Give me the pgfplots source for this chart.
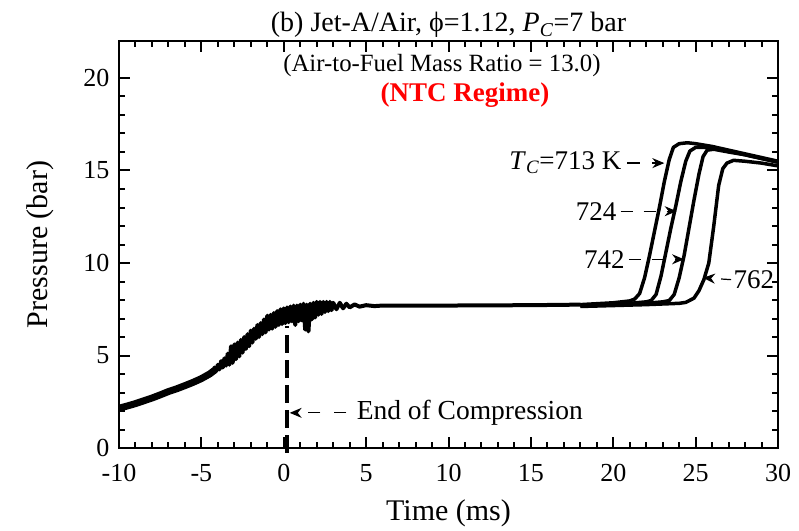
\documentclass[border=0pt]{standalone}
\usepackage{fontspec}
\setmainfont{Liberation Serif}
\usepackage{pgfplots}
\pgfplotsset{compat=1.18}
\usetikzlibrary{arrows.meta}
\begin{document}
\begin{tikzpicture}
\begin{axis}[
 at={(0,0)}, anchor=south west,
 scale only axis, width=659pt, height=407pt,
 xmin=-10, xmax=30, ymin=0, ymax=22,
 xtick={-10,-5,0,5,10,15,20,25,30}, ytick={0,5,10,15,20},
 minor x tick num=4, minor y tick num=4,
 xtick pos=both, ytick pos=both, tick align=inside,
 major tick length=11pt, minor tick length=6pt,
 axis line style={line width=1.7pt},
 every tick/.append style={line width=2pt, black},
 tick label style={font=\fontsize{26}{28}\selectfont},
 /pgf/number format/assume math mode=true,
 xticklabel style={yshift=-13pt},
 yticklabel style={xshift=-6pt},
 clip=false,
]
% early compression (smooth, thick)
\addplot[black, line width=7pt, line join=round] coordinates {
(-10,2.15) (-9.5,2.27) (-9,2.4) (-8.5,2.55) (-8,2.7) (-7.5,2.87) (-7,3.05) (-6.5,3.2) (-6,3.37) (-5.5,3.55) (-5,3.75) (-4.5,4.0) (-4.2,4.2)
};
% noisy end-of-compression region and plateau
\addplot[black, line width=4pt, line join=round] coordinates {
(-4.5,4.0) (-4.4,4.15) (-4.3,4.1) (-4.2,4.35) (-4.1,4.15) (-4.0,4.5) (-3.9,4.25) (-3.8,4.7) (-3.7,4.35) (-3.6,4.85)
(-3.5,4.45) (-3.4,5.1) (-3.3,4.5) (-3.2,5.5) (-3.1,4.6) (-3.0,5.6) (-2.9,4.8) (-2.8,5.7) (-2.7,4.95) (-2.6,5.85)
(-2.5,5.15) (-2.4,6.0) (-2.3,5.35) (-2.2,6.15) (-2.1,5.5) (-2.0,6.35) (-1.9,5.7) (-1.8,6.45) (-1.7,5.9) (-1.6,6.65)
(-1.5,6.0) (-1.4,6.75) (-1.3,6.15) (-1.2,6.95) (-1.1,6.25) (-1.0,7.15) (-0.9,6.4) (-0.8,7.2) (-0.7,6.45) (-0.6,7.3)
(-0.5,6.55) (-0.4,7.4) (-0.3,6.65) (-0.2,7.5) (-0.1,6.7) (0.0,7.55) (0.1,6.75) (0.2,7.6) (0.3,6.8) (0.4,7.65)
(0.5,6.85) (0.6,7.7) (0.7,6.65) (0.8,7.7) (0.9,6.85) (1.0,7.75) (1.1,6.9) (1.2,7.8) (1.3,6.4) (1.4,7.75)
(1.5,6.3) (1.6,7.8) (1.7,6.95) (1.8,7.85) (1.9,7.05) (2.0,7.9) (2.1,7.2) (2.2,7.9) (2.3,7.25) (2.4,7.9)
(2.5,7.35) (2.6,7.9) (2.7,7.4) (2.8,7.9) (2.9,7.45) (3.0,7.85) (3.2,7.5) (3.4,7.85) (3.6,7.55) (3.8,7.8)
(4.0,7.6) (4.3,7.76) (4.6,7.64) (5,7.72) (5.5,7.67) (6,7.7) (8,7.7) (10,7.7) (12,7.71) (15,7.72) (18,7.75)
};
% T_C = 713 K
\addplot[black, line width=3.5pt, line join=round] coordinates {
(18,7.75) (20,7.85) (21,7.95) (21.3,8.05) (21.6,8.35) (21.9,9.2) (22.2,10.4) (22.5,11.7) (22.8,13.0) (23.1,14.4)
(23.4,15.6) (23.65,16.25) (24,16.45) (24.5,16.5) (25,16.45) (26,16.3) (27,16.1) (28,15.9) (29,15.7) (30,15.5)
};
% 724 K
\addplot[black, line width=3.5pt, line join=round] coordinates {
(18,7.72) (21,7.82) (22,7.9) (22.3,7.97) (22.6,8.3) (22.9,9.3) (23.2,10.6) (23.5,11.9) (23.8,13.1) (24.1,14.4)
(24.4,15.5) (24.65,16.05) (25,16.25) (25.5,16.25) (26,16.2) (27,16.05) (28,15.85) (29,15.65) (30,15.45)
};
% 742 K
\addplot[black, line width=3.5pt, line join=round] coordinates {
(18,7.7) (22,7.82) (23,7.9) (23.4,7.97) (23.7,8.3) (24.0,9.2) (24.3,10.4) (24.6,11.9) (24.9,13.4) (25.2,14.8)
(25.45,15.75) (25.7,16.1) (26.1,16.15) (27,16.0) (28,15.85) (29,15.65) (30,15.45)
};
% 762 K
\addplot[black, line width=3.5pt, line join=round] coordinates {
(18,7.65) (22,7.75) (24,7.82) (24.4,7.87) (24.9,8.1) (25.2,8.5) (25.5,9.1) (25.8,10.0) (26.1,12.0) (26.4,14.2)
(26.65,15.1) (26.9,15.4) (27.3,15.55) (28,15.5) (29,15.4) (30,15.25)
};
% end of compression marker
\draw[black, line width=3.5pt, dash pattern=on 18pt off 7pt] (axis cs:0.2,-0.25) -- (axis cs:0.2,6.6);
\draw[black, line width=1.2pt, dash pattern=on 12pt off 14pt, -{Stealth[length=12pt,width=10pt]}] (axis cs:3.8,1.9) -- (axis cs:0.36,1.9);
\node[anchor=west, inner sep=0pt, font=\fontsize{27.5}{30}\selectfont] at (axis cs:4.42,1.9) {End of Compression};
% temperature labels
\node[anchor=east, inner sep=0pt, font=\fontsize{27}{30}\selectfont] at (axis cs:20.5,15.4) {\textit{T}\textsubscript{\textit{C}}=713 K};
\draw[black, line width=1.2pt, dash pattern=on 13pt off 12pt, -{Stealth[length=12pt,width=10pt]}] (axis cs:20.85,15.4) -- (axis cs:23.1,15.4);
\node[anchor=east, inner sep=0pt, font=\fontsize{27}{30}\selectfont] at (axis cs:20.2,12.8) {724};
\draw[black, line width=1.2pt, dash pattern=on 12pt off 11pt, -{Stealth[length=12pt,width=10pt]}] (axis cs:20.45,12.8) -- (axis cs:23.85,12.8);
\node[anchor=east, inner sep=0pt, font=\fontsize{27}{30}\selectfont] at (axis cs:20.7,10.2) {742};
\draw[black, line width=1.2pt, dash pattern=on 12pt off 11pt, -{Stealth[length=12pt,width=10pt]}] (axis cs:20.95,10.2) -- (axis cs:24.3,10.2);
\draw[black, line width=1.2pt, dash pattern=on 10pt off 14pt, -{Stealth[length=12pt,width=10pt]}] (axis cs:27.15,9.1) -- (axis cs:25.45,9.2);
\node[anchor=west, inner sep=0pt, font=\fontsize{27}{30}\selectfont] at (axis cs:27.3,9.1) {762};
% texts
\node[font=\fontsize{24.8}{28}\selectfont] at (axis cs:9.6,20.7) {(Air-to-Fuel Mass Ratio = 13.0)};
\node[font=\fontsize{27}{30}\selectfont\bfseries, text=red] at (axis cs:11.0,19.1) {(NTC Regime)};
\node[anchor=base, font=\fontsize{28}{30}\selectfont] at ([yshift=9pt]rel axis cs:0.5,1) {(b) Jet-A/Air, ϕ=1.12, \textit{P}\textsubscript{\textit{C}}=7 bar};
\node[font=\fontsize{30}{32}\selectfont] at ([yshift=-65pt]rel axis cs:0.5,0) {Time (ms)};
\node[rotate=90, font=\fontsize{30}{32}\selectfont] at ([xshift=-79pt]rel axis cs:0,0.5) {Pressure (bar)};
\end{axis}
\path (-119pt,-82pt) rectangle (680pt,448pt);
\end{tikzpicture}
\end{document}
